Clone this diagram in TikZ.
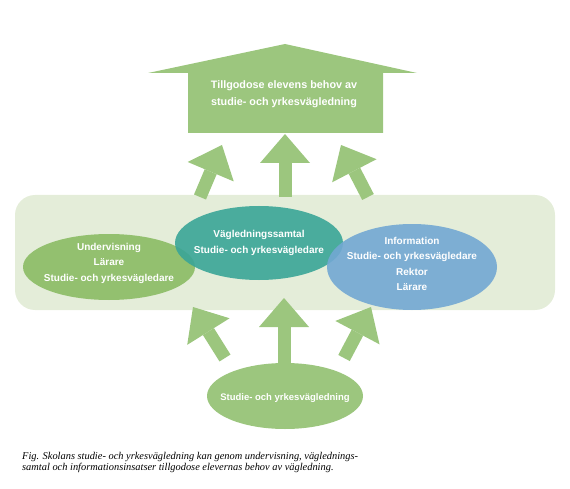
\documentclass[tikz,border=0pt]{standalone}
\usepackage{fontspec}
\setmainfont{Liberation Sans}
\newfontfamily\captionfont{Liberation Serif}
\usetikzlibrary{arrows.meta,shapes.geometric}

\definecolor{arrowgreen}{HTML}{9CC67E}
\definecolor{bandgreen}{HTML}{E4EDD9}
\definecolor{leftgreen}{HTML}{93C06F}
\definecolor{teal}{HTML}{3AA597}
\definecolor{infoblue}{HTML}{72A8D3}

\begin{document}
\begin{tikzpicture}[x=1pt,y=-1pt,
  fatarrow/.style={arrowgreen, line width=13pt, -{Triangle[width=50pt,length=29pt,line width=0pt]}},
  oval/.style={ellipse, inner sep=0pt},
  txt/.style={text=white, font=\bfseries\fontsize{10}{15.5}\selectfont, align=center}]
\useasboundingbox (0,0) rectangle (570,489);

% band behind the three activities
\fill[bandgreen, rounded corners=20] (15,195) rectangle (555,310);

% goal arrow at the top
\fill[arrowgreen] (188,133) -- (188,73) -- (148,73) -- (285,44) -- (417,73) -- (383,73) -- (383,133) -- cycle;
\node[txt, font=\bfseries\fontsize{10.8}{17}\selectfont] (goal) at (284,94) {Tillgodose elevens behov av\\studie- och yrkesvägledning};

% arrows up to the goal
\coordinate (tl0) at (200,197);  \coordinate (tl1) at (222,145);
\coordinate (tm0) at (285,197);  \coordinate (tm1) at (285,134);
\coordinate (tr0) at (368,197);  \coordinate (tr1) at (341,145);
\draw[fatarrow] (tl0) -- (tl1);
\draw[fatarrow] (tm0) -- (tm1);
\draw[fatarrow] (tr0) -- (tr1);

% arrows up from the base
\coordinate (bl0) at (225,358);  \coordinate (bl1) at (193,307);
\coordinate (bm0) at (284,364);  \coordinate (bm1) at (284,298);
\coordinate (br0) at (344,358);  \coordinate (br1) at (371,307);
\draw[fatarrow] (bl0) -- (bl1);
\draw[fatarrow] (bm0) -- (bm1);
\draw[fatarrow] (br0) -- (br1);

% the three activities
\node[oval, fill=leftgreen, minimum width=172, minimum height=66] (undervisning) at (109,267) {};
\node[oval, fill=teal, opacity=0.9, minimum width=168, minimum height=74] (samtal) at (259,243) {};
\node[oval, fill=infoblue, opacity=0.9, minimum width=170, minimum height=86] (information) at (412,267) {};
\node[txt] (undervisningtxt) at ([yshift=4]undervisning) {Undervisning\\Lärare\\Studie- och yrkesvägledare};
\node[txt] (samtaltxt) at (samtal) {Vägledningssamtal\\Studie- och yrkesvägledare};
\node[txt] (informationtxt) at ([yshift=3]information) {Information\\Studie- och yrkesvägledare\\Rektor\\Lärare};

% base
\node[oval, fill=arrowgreen, minimum width=156, minimum height=66] (bas) at (285,396) {};
\node[txt, font=\bfseries\fontsize{9.5}{12}\selectfont] (bastxt) at ([yshift=-2]bas) {Studie- och yrkesvägledning};

% caption
\node[anchor=north west, align=left, inner sep=0pt, font=\captionfont\itshape\fontsize{10.4}{11.5}\selectfont] (caption) at (22,452)
  {Fig. Skolans studie- och yrkesvägledning kan genom undervisning, väglednings-\\samtal och informationsinsatser tillgodose elevernas behov av vägledning.};
\end{tikzpicture}
\end{document}
